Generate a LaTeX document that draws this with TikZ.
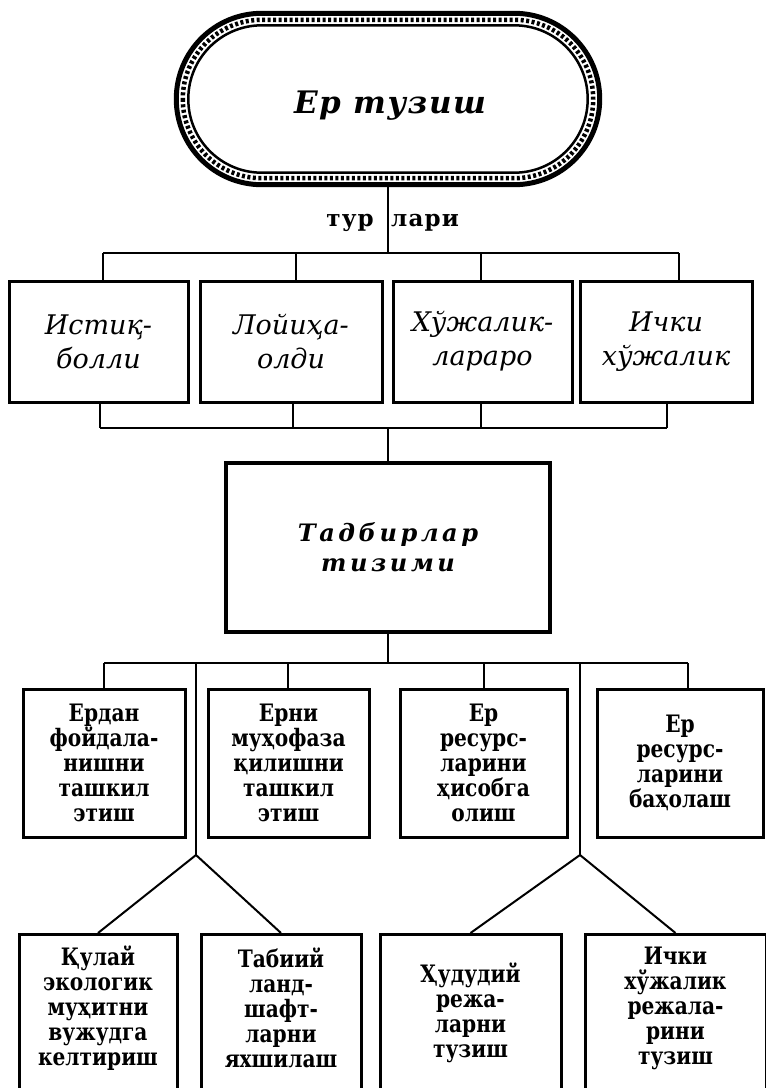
\documentclass[tikz,border=0pt]{standalone}
\usepackage{fontspec}
\setmainfont{DejaVu Serif}
\newfontfamily\condfont[FakeStretch=0.84]{DejaVu Serif}
\usetikzlibrary{calc}
\begin{document}
\begin{tikzpicture}[x=1pt,y=-1pt,
  conn/.style={line width=2pt},
  titletxt/.style={inner sep=0pt,font=\fontsize{31}{36}\selectfont\bfseries\itshape\addfontfeature{LetterSpace=5}},
  kindtxt/.style={inner sep=0pt,font=\fontsize{23}{26}\selectfont\bfseries\addfontfeature{LetterSpace=5}},
  boxA/.style={draw,line width=3pt,minimum width=#1,minimum height=121pt,inner sep=0pt,align=center,
    font=\fontsize{27}{34}\selectfont\itshape},
  boxB/.style={draw,line width=3pt,minimum width=#1,minimum height=148pt,inner sep=0pt,align=center,
    font=\condfont\fontsize{24}{25}\selectfont\bfseries},
  boxC/.style={draw,line width=3pt,minimum width=#1,minimum height=165pt,inner sep=0pt,anchor=north},
  txtC/.style={align=center,inner sep=0pt,font=\condfont\fontsize{24}{25}\selectfont\bfseries},
  midbox/.style={draw,line width=4.5pt,minimum width=324pt,minimum height=169pt,inner sep=0pt,align=center,
    font=\fontsize{24}{30}\selectfont\bfseries\itshape\addfontfeature{LetterSpace=15}}
]
\path[use as bounding box] (0,0) rectangle (766,1088);
\clip (0,0) rectangle (766,1088);

% ---------- top oval ----------
\node[minimum width=428pt,minimum height=176pt,inner sep=0pt] (top) at (388,99) {};
\draw[line width=5pt,rounded corners=85.5pt]
  ($(top.north west)+(2.5,2.5)$) rectangle ($(top.south east)+(-2.5,-2.5)$);
\draw[line width=4.5pt,rounded corners=79pt,dash pattern=on 3pt off 2.5pt]
  ($(top.north west)+(9,9)$) rectangle ($(top.south east)+(-9,-9)$);
\draw[line width=2.5pt,rounded corners=73.5pt]
  ($(top.north west)+(14.5,14.5)$) rectangle ($(top.south east)+(-14.5,-14.5)$);
\node[titletxt] (toptext) at (390,106) {Ер тузиш};

% ---------- label ----------
\node[kindtxt,anchor=base east] (tur) at (374,226) {тур};
\node[kindtxt,anchor=base west] (lari) at (391,226) {лари};

% ---------- first row ----------
\node[boxA=179pt] (b1) at (98.5,341.5) {Истиқ-\\болли};
\node[boxA=182pt] (b2) at (291,341.5) {Лойиҳа-\\олди};
\node[boxA=179pt] (b3) at (482.5,341.5) {Хўжалик-\\лараро};
\node[boxA=172pt] (b4) at (666,341.5) {Ички\\хўжалик};

\coordinate (tj) at (388,253);
\coordinate (u1) at (103,253);
\coordinate (u2) at (296,253);
\coordinate (u3) at (481,253);
\coordinate (u4) at (679,253);
\draw[conn] (top.south) -- (tj);
\draw[conn] (u1) -- (u4);
\draw[conn] (u1) -- (u1 |- b1.north);
\draw[conn] (u2) -- (u2 |- b2.north);
\draw[conn] (u3) -- (u3 |- b3.north);
\draw[conn] (u4) -- (u4 |- b4.north);

% ---------- middle box ----------
\node[midbox] (mid) at (388,547.5) {Тадбирлар\\тизими};

\coordinate (lj) at (388,428);
\coordinate (l1) at (100,428);
\coordinate (l2) at (293,428);
\coordinate (l3) at (481,428);
\coordinate (l4) at (667,428);
\draw[conn] (l1) -- (l4);
\draw[conn] (b1.south -| l1) -- (l1);
\draw[conn] (b2.south -| l2) -- (l2);
\draw[conn] (b3.south -| l3) -- (l3);
\draw[conn] (b4.south -| l4) -- (l4);
\draw[conn] (lj) -- (mid.north);

% ---------- second row ----------
\node[boxB=162pt] (c1) at (104,763) {Ердан\\фойдала-\\нишни\\ташкил\\этиш};
\node[boxB=161pt] (c2) at (288.5,763) {Ерни\\муҳофаза\\қилишни\\ташкил\\этиш};
\node[boxB=167pt] (c3) at (483.5,763) {Ер\\ресурс-\\ларини\\ҳисобга\\олиш};
\node[boxB=166pt] (c4) at (680,763) {Ер\\ресурс-\\ларини\\баҳолаш};

\coordinate (mj) at (388,663);
\coordinate (m1) at (104,663);
\coordinate (m2) at (196,663);
\coordinate (m3) at (288,663);
\coordinate (m4) at (484,663);
\coordinate (m5) at (580,663);
\coordinate (m6) at (688,663);
\draw[conn] (mid.south) -- (mj);
\draw[conn] (m1) -- (m6);
\draw[conn] (m1) -- (m1 |- c1.north);
\draw[conn] (m3) -- (m3 |- c2.north);
\draw[conn] (m4) -- (m4 |- c3.north);
\draw[conn] (m6) -- (m6 |- c4.north);

% ---------- third row ----------
\node[boxC=158pt] (d1) at (98,933) {};
\node[boxC=160pt] (d2) at (281,933) {};
\node[boxC=181pt] (d3) at (470.5,933) {};
\node[boxC=181pt] (d4) at (675.5,933) {};
\node[txtC] (d1t) at ($(d1.north)+(0,75)$) {Қулай\\экологик\\муҳитни\\вужудга\\келтириш};
\node[txtC] (d2t) at ($(d2.north)+(0,75)$) {Табиий\\ланд-\\шафт-\\ларни\\яхшилаш};
\node[txtC] (d3t) at ($(d3.north)+(0,80)$) {Ҳудудий\\режа-\\ларни\\тузиш};
\node[txtC] (d4t) at ($(d4.north)+(0,75)$) {Ички\\хўжалик\\режала-\\рини\\тузиш};

\coordinate (a1) at (196,855);
\coordinate (a2) at (580,855);
\draw[conn] (m2) -- (a1);
\draw[conn] (m5) -- (a2);
\draw[conn] (a1) -- (d1.north);
\draw[conn] (a1) -- (d2.north);
\draw[conn] (a2) -- (d3.north);
\draw[conn] (a2) -- (d4.north);
\end{tikzpicture}
\end{document}
